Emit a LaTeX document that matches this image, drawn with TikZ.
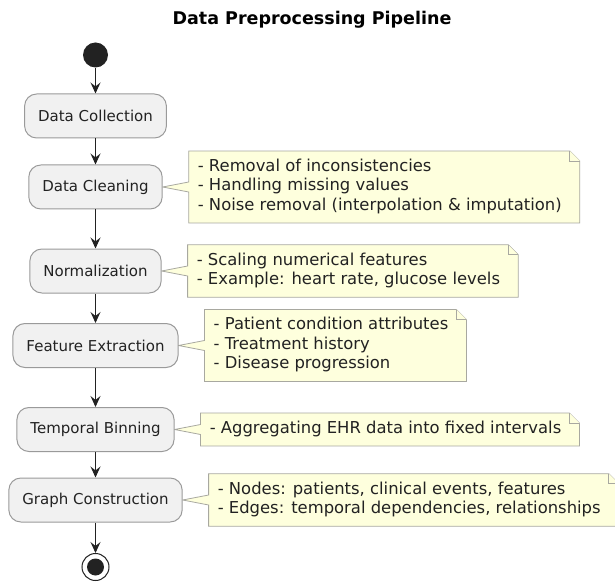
\documentclass[tikz,border=0pt]{standalone}
\usepackage{fontspec}
\setmainfont{DejaVu Sans}
\usetikzlibrary{positioning,calc,arrows.meta,backgrounds}

\definecolor{actfill}{HTML}{F1F1F1}
\definecolor{actline}{HTML}{9A9A9A}
\definecolor{notefill}{HTML}{FEFFDD}
\definecolor{noteline}{HTML}{A8A8A0}
\definecolor{ink}{HTML}{222222}

\tikzset{
  activity/.style={draw=actline, fill=actfill, line width=1pt, rounded corners=12pt,
    minimum height=44pt, inner xsep=13.5pt, font=\fontsize{15}{18}\selectfont, text=ink},
  note/.style={font=\fontsize{16.4}{19.5}\selectfont, align=left, inner xsep=9pt,
    inner ysep=6.5pt, text=ink},
  notebox/.style={draw=noteline, fill=notefill, line width=0.8pt},
  flow/.style={draw=ink, line width=1.1pt, -{Stealth[length=11pt,width=10pt,inset=4pt]}},
}

\begin{document}
\begin{tikzpicture}[x=1pt, y=-1pt]
    \useasboundingbox (0,0) rectangle (615,585);
    \node[font=\bfseries\fontsize{17.5}{20}\selectfont, anchor=base] (title) at (312,25) {Data Preprocessing Pipeline};

    % activities, top to bottom
    \node[circle, fill=ink, minimum size=25pt, inner sep=0] (start) at (95.5,55) {};
    \node[activity] (collect) at (95.5,116) {Data Collection};
    \node[activity] (clean) at (95.5,187) {Data Cleaning};
    \node[activity] (norm) at (95.5,271) {Normalization};
    \node[activity] (extract) at (95.5,345.5) {Feature Extraction};
    \node[activity] (binning) at (95.5,429.5) {Temporal Binning};
    \node[activity] (graph) at (95.5,500) {Graph Construction};
    \node[circle, draw=ink, line width=1pt, minimum size=27pt, inner sep=0] (stop) at (95.5,567) {};
    \fill[ink] (stop.center) circle (8.5);

    \foreach \a/\b in {start/collect, collect/clean, clean/norm, norm/extract, extract/binning, binning/graph, graph/stop}
        \draw[flow] (\a) -- (\b);

    % notes
    \node[note, right=26pt of clean] (clean-note) {\strut- Removal of inconsistencies\\\strut- Handling missing values\\\strut- Noise removal (interpolation \& imputation)};
    \node[note, right=26pt of norm] (norm-note) {\strut- Scaling numerical features\\\strut- Example: heart rate, glucose levels};
    \node[note, right=26pt of extract] (extract-note) {\strut- Patient condition attributes\\\strut- Treatment history\\\strut- Disease progression};
    \node[note, right=26pt of binning] (binning-note) {\strut- Aggregating EHR data into fixed intervals};
    \node[note, right=26pt of graph] (graph-note) {\strut- Nodes: patients, clinical events, features\\\strut- Edges: temporal dependencies, relationships};

    \begin{scope}[on background layer]
        \foreach \n/\a in {clean-note/clean, norm-note/norm, extract-note/extract, binning-note/binning, graph-note/graph} {
            \draw[notebox] (\n.north west) -- ($(\n.north east)+(-1pt,0)$) -- ($(\n.north east)+(9pt,-10pt)$)
                -- ($(\n.south east)+(9pt,0)$) -- (\n.south west) -- ($(\n.west)+(0,-5pt)$)
                -- (\a.east) -- ($(\n.west)+(0,5pt)$) -- cycle;
            \draw[notebox] ($(\n.north east)+(-1pt,0)$) -- ($(\n.north east)+(-1pt,-10pt)$) -- ($(\n.north east)+(9pt,-10pt)$);
        }
    \end{scope}
\end{tikzpicture}
\end{document}
